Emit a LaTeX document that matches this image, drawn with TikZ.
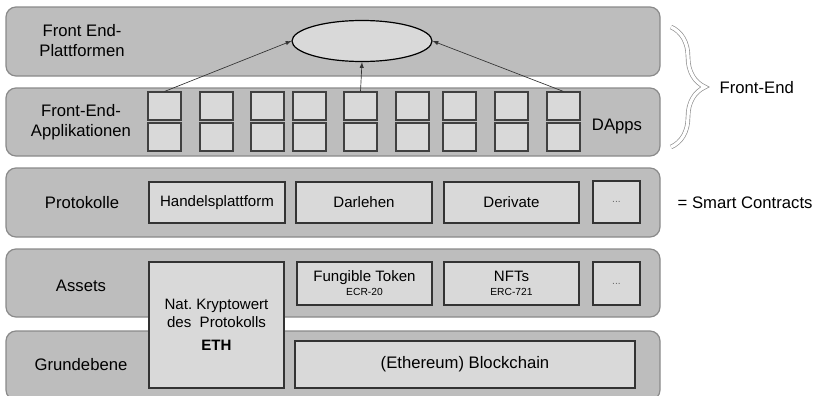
\documentclass[tikz,border=0pt]{standalone}
\usepackage{fontspec}
\setmainfont{Liberation Sans}
\usepackage{tikz}
\usetikzlibrary{calc,shapes.geometric,decorations.pathreplacing}
\tikzset{>=latex}
\definecolor{layergray}{HTML}{BDBDBD}
\definecolor{boxgray}{HTML}{D9D9D9}
\definecolor{edgegray}{HTML}{8A8A8A}
\tikzset{
  layer/.style={draw=edgegray,fill=layergray,line width=0.9pt,rounded corners=7.5pt},
  lbl/.style={font=\fontsize{12.5}{15}\selectfont,align=center},
  ibox/.style={draw=black!80,fill=boxgray,line width=0.8pt,font=\fontsize{11.3}{13.5}\selectfont,align=center,inner sep=0pt},
  dapp/.style={draw=black!75,fill=boxgray,line width=0.8pt,minimum width=24.75pt,minimum height=21pt,inner sep=0pt},
  small/.style={font=\fontsize{7.7}{9}\selectfont}
}
\begin{document}
\begin{tikzpicture}[x=0.75pt,y=-0.75pt]
       \useasboundingbox (0,0) rectangle (817,396);
       % the five layers
       \draw[layer] (6,7) rectangle (660,76);
       \draw[layer] (6,88) rectangle (660,156);
       \draw[layer] (6,168) rectangle (660,237);
       \draw[layer] (6,249) rectangle (660,317);
       \draw[layer] (6,331) rectangle (660,400);
       \node[lbl] (lplat) at (82,41) {Front End-\\Plattformen};
       \node[lbl] (lapp) at (81,122) {Front-End-\\Applikationen};
       \node[lbl] (lprot) at (82,203) {Protokolle};
       \node[lbl] (lasset) at (81,286) {Assets};
       \node[lbl] (lgrund) at (81,365) {Grundebene};
       % front end
       \node[ellipse,draw=black,fill=boxgray,line width=0.9pt,minimum width=105pt,minimum height=30.75pt] (plat) at (362,41) {};
       \foreach \x [count=\i] in {164.5,216.5,267.5,309.5,360.5,412.5,459.5,511.5,563.5}{
         \node[dapp] (t\i) at (\x,106) {};
         \node[dapp] (b\i) at (\x,137) {};
       }
       \node[lbl] (dapps) at (617,126) {DApps};
       \draw[->,black!80,line width=0.5pt] (t1.north) -- (plat.west);
       \draw[->,black!80,line width=0.5pt] (t5.north) -- (plat.south);
       \draw[->,black!80,line width=0.5pt] (t9.north) -- (plat.east);
       % protocols
       \node[ibox,minimum width=102pt,minimum height=30.75pt] (handel) at (217,202.5) {Handelsplattform};
       \node[ibox,minimum width=102pt,minimum height=30.75pt] (darlehen) at (364,202.5) {Darlehen};
       \node[ibox,minimum width=101.25pt,minimum height=30.75pt] (derivate) at (511.5,202.5) {Derivate};
       \node[ibox,minimum width=35.25pt,minimum height=31.5pt,text=black!60,small] (protmore) at (616.5,202) {...};
       % assets
       \node[ibox,minimum width=101.25pt,minimum height=32.25pt] (fungible) at (364.5,283.5) {Fungible Token\\[-3pt]{\fontsize{7.7}{9}\selectfont ECR-20}};
       \node[ibox,minimum width=101.25pt,minimum height=32.25pt] (nft) at (511.5,283.5) {NFTs\\[-3pt]{\fontsize{7.7}{9}\selectfont ERC-721}};
       \node[ibox,minimum width=35.25pt,minimum height=32.25pt,text=black!60,small] (assetmore) at (616.5,283.5) {...};
       \node[ibox,minimum width=101.25pt,minimum height=94.5pt] (eth) at (216.5,325) {Nat.\ Kryptowert\\des\ \ Protokolls\\[4pt]\textbf{ETH}};
       % base layer
       \node[ibox,minimum width=255pt,minimum height=35.25pt,font=\fontsize{12.5}{15}\selectfont] (chain) at (465,364.5) {(Ethereum) Blockchain};
       % right side
       \coordinate (btop) at (671,27);
       \coordinate (bbot) at (671,147);
       \draw[decorate,decoration={brace,amplitude=25.5pt},draw=black!45,line width=0.5pt,double=white,double distance=2.4pt] (btop) -- (bbot);
       \node[lbl,anchor=west] (frontend) at (715,88) {Front-End};
       \node[lbl,anchor=west] (smart) at (673,203) {= Smart Contracts};
      \end{tikzpicture}
\end{document}
